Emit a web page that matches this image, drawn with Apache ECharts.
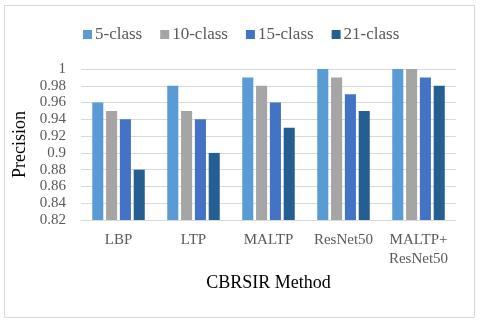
<!DOCTYPE html>
<html>
<head>
<meta charset="utf-8">
<script src="https://cdn.jsdelivr.net/npm/echarts@6/dist/echarts.min.js"></script>
<style>
  html, body { margin: 0; padding: 0; background: #fff; }
  #chart { width: 480px; height: 322px; }
</style>
</head>
<body>
<div id="chart"></div>
<script>
  // data
  const methods = ['LBP', 'LTP', 'MALTP', 'ResNet50', 'MALTP+\nResNet50'];
  const seriesNames = ['5-class', '10-class', '15-class', '21-class'];
  const class5 = [0.96, 0.98, 0.99, 1.00, 1.00];
  const class10 = [0.95, 0.95, 0.98, 0.99, 1.00];
  const class15 = [0.94, 0.94, 0.96, 0.97, 0.99];
  const class21 = [0.88, 0.90, 0.93, 0.95, 0.98];

  const colors = ['#5B9BD5', '#A5A5A5', '#4472C4', '#255E91'];
  const font = '"Liberation Serif", "Times New Roman", serif';

  const chart = echarts.init(document.getElementById('chart'));

  const values = [class5, class10, class15, class21];
  const series = seriesNames.map((name, i) => ({
    name: name,
    type: 'bar',
    data: values[i],
    barGap: '25%',
    barCategoryGap: '30%',
    itemStyle: { color: colors[i] }
  }));

  chart.setOption({
    animation: false,
    color: colors,
    graphic: [{
      type: 'rect',
      shape: { x: 4.5, y: 5.5, width: 470, height: 312 },
      style: { fill: 'none', stroke: '#d9d9d9', lineWidth: 1 },
      silent: true
    }],
    legend: {
      top: 21,
      left: 78,
      itemWidth: 9,
      itemHeight: 9,
      itemGap: 18,
      icon: 'rect',
      textStyle: { fontFamily: font, fontSize: 17, color: '#595959', padding: [0, 0, 0, -2] },
      data: seriesNames
    },
    grid: {
      left: 81,
      right: 24,
      top: 69,
      bottom: 102
    },
    xAxis: {
      type: 'category',
      data: methods,
      name: 'CBRSIR Method',
      nameLocation: 'middle',
      nameGap: 54,
      nameTextStyle: { fontFamily: font, fontSize: 18, color: '#000' },
      axisLine: { lineStyle: { color: '#d9d9d9' } },
      axisTick: { show: false },
      axisLabel: {
        fontFamily: font, fontSize: 15, color: '#595959', margin: 11, lineHeight: 19,
        interval: 0
      }
    },
    yAxis: {
      type: 'value',
      min: 0.82,
      max: 1,
      interval: 0.02,
      name: 'Precision',
      nameLocation: 'middle',
      nameGap: 52,
      nameTextStyle: { fontFamily: font, fontSize: 18, color: '#000' },
      axisLine: { show: false },
      axisTick: { show: false },
      splitLine: { lineStyle: { color: '#d9d9d9' } },
      axisLabel: {
        fontFamily: font, fontSize: 15, color: '#595959', margin: 15,
        formatter: v => String(+v.toFixed(2))
      }
    },
    series: series
  });
</script>
</body>
</html>
